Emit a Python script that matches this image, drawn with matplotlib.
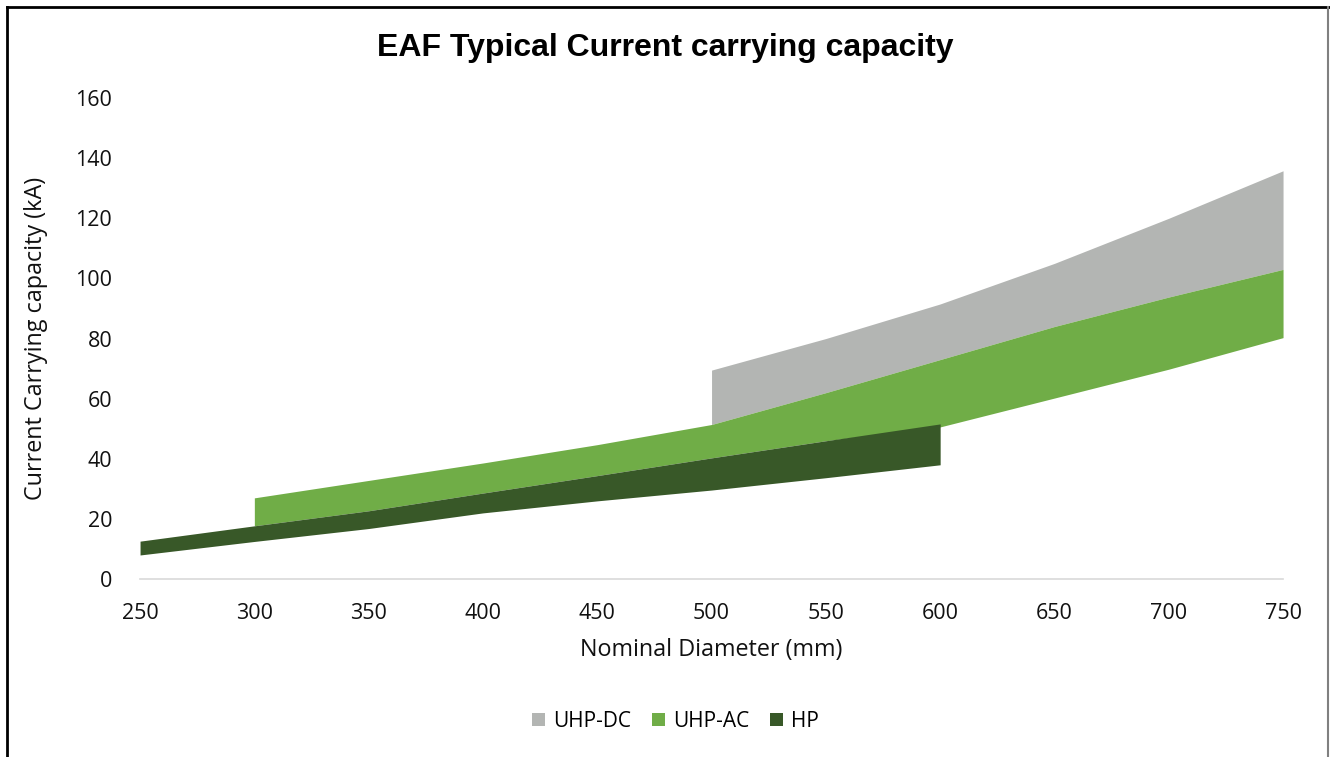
import matplotlib.pyplot as plt
from matplotlib.lines import Line2D
import numpy as np

# nominal diameters (mm)
diam = np.array([250, 300, 350, 400, 450, 500, 550, 600, 650, 700, 750])

# HP band, 250-600 mm
hp_x = diam[0:8]
hp_low = [8.0, 12.5, 16.8, 22.0, 26.0, 29.6, 33.7, 38.0]
hp_high = [12.6, 17.7, 22.7, 28.6, 34.4, 40.3, 46.0, 51.6]

# UHP-AC band, 300-750 mm
ac_x = diam[1:]
ac_low = [17.7, 22.7, 28.6, 34.4, 40.3, 46.0, 50.6, 60.2, 69.8, 80.3]
ac_high = [27.0, 32.8, 38.6, 44.7, 51.4, 62.0, 73.0, 84.0, 93.8, 103.0]

# UHP-DC band, 500-750 mm
dc_x = diam[5:]
dc_low = [51.4, 62.0, 73.0, 84.0, 93.8, 103.0]
dc_high = [69.5, 80.0, 91.5, 105.0, 120.0, 135.8]

plt.rcParams['font.family'] = ['Open Sans', 'DejaVu Sans']

fig = plt.figure(figsize=(13.3, 7.57), dpi=100)
ax = fig.add_axes([0.1053, 0.2351, 0.8594, 0.6354])

ax.fill_between(dc_x, dc_low, dc_high, color='#B3B5B3', linewidth=0, label='UHP-DC')
ax.fill_between(ac_x, ac_low, ac_high, color='#70AD47', linewidth=0, label='UHP-AC')
ax.fill_between(hp_x, hp_low, hp_high, color='#385828', linewidth=0, label='HP')

ax.set_xlim(250, 750)
ax.set_ylim(0, 160)
ax.set_xticks(np.arange(250, 751, 50))
ax.set_yticks(np.arange(0, 161, 20))
ax.tick_params(length=0, labelsize=15.5, colors='#111111')
ax.tick_params(axis='x', pad=17)
ax.tick_params(axis='y', pad=20)
for s in ['top', 'right', 'left']:
    ax.spines[s].set_visible(False)
ax.spines['bottom'].set_color('#D9D9D9')
ax.spines['bottom'].set_linewidth(1.2)

ax.set_xlabel('Nominal Diameter (mm)', fontsize=16.8, color='#111111', va='center')
ax.set_ylabel('Current Carrying capacity (kA)', fontsize=16.8, color='#111111', va='center')
ax.xaxis.set_label_coords(0.5, -0.1476)
ax.yaxis.set_label_coords(-0.091, 0.5)

fig.text(0.5, 0.936, 'EAF Typical Current carrying capacity', ha='center', va='center',
         fontsize=23, fontweight='bold', family='Liberation Sans')

fig.legend(loc='center', bbox_to_anchor=(0.508, 0.047), ncol=3, frameon=False,
           fontsize=15, handlelength=0.6, handleheight=0.6, handletextpad=0.4,
           columnspacing=1.0)

# frame around the chart
fig.add_artist(Line2D([0.005, 0.005], [0.0, 0.991], color='black', lw=2))
fig.add_artist(Line2D([0.005, 0.999], [0.991, 0.991], color='black', lw=2))
fig.add_artist(Line2D([0.9985, 0.9985], [0.0, 0.991], color='#808080', lw=1.5))

fig.savefig('out.png', dpi=100)
